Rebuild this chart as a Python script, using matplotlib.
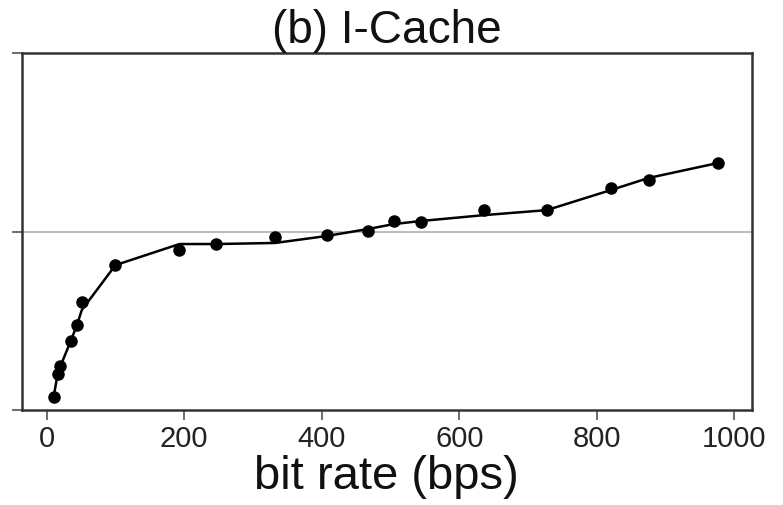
import matplotlib
matplotlib.use("Agg")
import matplotlib.pyplot as plt

plt.rcParams['font.family'] = ['Liberation Sans', 'DejaVu Sans']

# measured points
bit_rate = [10, 16, 20, 35, 44, 51, 100, 193, 246, 332, 407, 467, 505, 544, 636, 727, 820, 875, 976]
point_vals = [0.073, 0.202, 0.246, 0.387, 0.476, 0.605, 0.812, 0.896, 0.930, 0.969, 0.980, 1.003,
              1.059, 1.053, 1.120, 1.120, 1.244, 1.289, 1.384]
# fitted / smoothed line
line_vals = [0.073, 0.202, 0.246, 0.387, 0.476, 0.560, 0.812, 0.930, 0.930, 0.936, 0.975, 1.014,
             1.042, 1.059, 1.092, 1.120, 1.232, 1.300, 1.384]
x_ticks = [0, 200, 400, 600, 800, 1000]
y_ticks = [0, 1, 2]
reference_level = 1.0

fig = plt.figure(figsize=(7.83, 5.05), dpi=100)
ax = fig.add_axes([0.028, 0.188, 0.932, 0.707])

ax.axhline(reference_level, color='#bdbdbd', lw=1.5, zorder=1)
ax.plot(bit_rate, line_vals, color='black', lw=1.8, zorder=2)
ax.plot(bit_rate, point_vals, 'o', color='black', ms=8, zorder=3)

ax.set_xlim(-36, 1025)
ax.set_ylim(0, 2)
ax.set_xticks(x_ticks)
ax.set_xticklabels([str(t) for t in x_ticks], fontsize=21, color='#222222')
ax.set_yticks(y_ticks)
ax.set_yticklabels([])
ax.tick_params(axis='both', direction='out', length=7, width=1.2, color='#555555')
for s in ax.spines.values():
    s.set_linewidth(1.8)
    s.set_color('#333333')

ax.set_title('(b) I-Cache', fontsize=33, pad=1, color='#111111')
ax.set_xlabel('bit rate (bps)', fontsize=34, labelpad=2, color='#111111')

fig.savefig('out.png', dpi=100)
